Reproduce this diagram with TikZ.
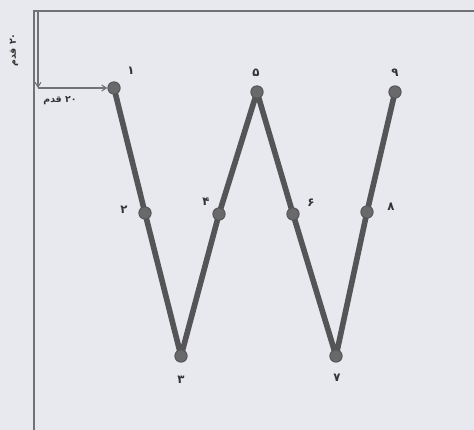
\documentclass[tikz,border=0pt]{standalone}
\usepackage{fontspec}
\usepackage{xcolor}
\usepackage{tikz}
\usetikzlibrary{arrows.meta,positioning,calc}
\newfontfamily\arabicfont[Script=Arabic]{DejaVu Sans}
\TeXXeTstate=1
\definecolor{paper}{HTML}{E7E9EE}
\definecolor{legcol}{HTML}{555557}
\definecolor{dotcol}{HTML}{69696B}
\definecolor{framecol}{HTML}{727276}

\begin{document}
\begin{tikzpicture}[
    x=0.03cm, y=-0.03cm,
    >={Straight Barb[length=4pt,width=5pt]},
    font=\arabicfont\bfseries\normalsize,
    frame/.style={
        draw=framecol,
        line width=0.9pt
    },
    dim/.style={
        ->,
        draw=framecol,
        line width=0.9pt
    },
    leg/.style={
        draw=legcol,
        line width=4.8pt,
        line join=round,
        line cap=round
    },
    pt/.style={
        circle,
        fill=dotcol,
        draw=legcol,
        line width=0.8pt,
        inner sep=0pt,
        minimum size=0.37cm
    },
    lbl/.style={
        text=black!80,
        inner sep=1pt
    }
]

% paper
\fill[paper] (0,0) rectangle (474,430);
\useasboundingbox (0,0) rectangle (474,430);

% frame of the field
\coordinate (tl) at (34,11);
\coordinate (bl) at (34,430);
\coordinate (tr) at (474,11);
\draw[frame] (bl) -- (tl) -- (tr);

% walking points
\coordinate (c1) at (114,88);
\coordinate (c2) at (145,213);
\coordinate (c3) at (181,356);
\coordinate (c4) at (219,214);
\coordinate (c5) at (257,92);
\coordinate (c6) at (293,214);
\coordinate (c7) at (336,356);
\coordinate (c8) at (367,212);
\coordinate (c9) at (395,92);

\draw[leg] (c1) -- (c2) -- (c3) -- (c4) -- (c5) -- (c6) -- (c7) -- (c8) -- (c9);

\foreach \i in {1,...,9}
    \node[pt] (p\i) at (c\i) {};

% point numbers
\node[lbl] (l1) at (131,71) {\beginR ۱\endR};
\node[lbl] (l2) at (124,210) {\beginR ۲\endR};
\node[lbl] (l3) at (181,380) {\beginR ۳\endR};
\node[lbl] (l4) at (206,202) {\beginR ۴\endR};
\node[lbl] (l5) at (256,73) {\beginR ۵\endR};
\node[lbl] (l6) at (311,203) {\beginR ۶\endR};
\node[lbl] (l7) at (337,378) {\beginR ۷\endR};
\node[lbl] (l8) at (391,207) {\beginR ۸\endR};
\node[lbl] (l9) at (395,73) {\beginR ۹\endR};

% start offsets
\coordinate (top) at (38,11);
\coordinate (corner) at (38,88);
\draw[dim] (top) -- (corner);
\draw[dim] (corner) -- (p1);
\node[lbl, font=\arabicfont\bfseries\footnotesize] (dx) at (60,101) {\beginR ۲۰ قدم\endR};
\node[lbl, font=\arabicfont\bfseries\footnotesize, rotate=90] (dy) at (14,50) {\beginR ۲۰ قدم\endR};

\end{tikzpicture}
\end{document}
